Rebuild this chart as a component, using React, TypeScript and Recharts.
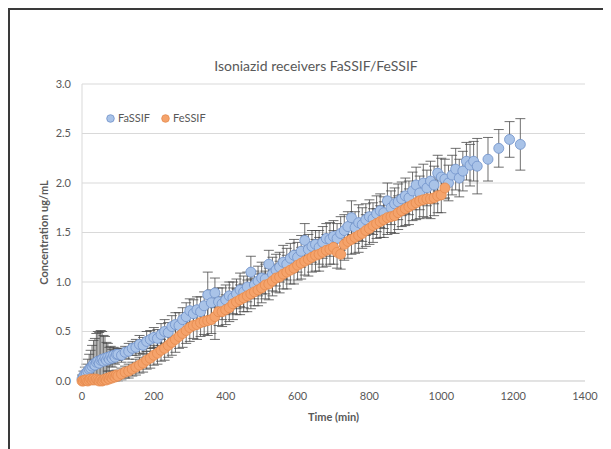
import React from 'react'
import {
  ScatterChart,
  Scatter,
  XAxis,
  YAxis,
  CartesianGrid,
  ErrorBar,
  Label,
} from 'recharts'

// sampling times (min)
const timeMin = [
  0, 4, 8, 12, 16, 20, 24, 28, 32, 36, 40, 44, 48, 52, 56, 60, 64, 68, 72, 76, 80, 84, 88, 92, 96,
  100, 110, 120, 130, 140, 150, 160, 170, 180, 190,
  200, 210, 220, 230, 240, 250, 260, 270, 280, 290,
  300, 310, 320, 330, 340, 350, 360, 370, 380, 390,
  400, 410, 420, 430, 440, 450, 460, 470, 480, 490,
  500, 510, 520, 530, 540, 550, 560, 570, 580, 590,
  600, 610, 620, 630, 640, 650, 660, 670, 680, 690,
  700, 710, 720, 730, 740, 750, 760, 770, 780, 790,
  800, 810, 820, 830, 840, 850, 860, 870, 880, 890,
  900, 910, 920, 930, 940, 950, 960, 970, 980, 990,
  1000, 1010, 1020, 1030, 1040, 1050, 1060, 1070, 1080, 1090, 1100,
  1130, 1160, 1190, 1220,
]

const fassifConc = [
  0.02, 0.05, 0.07, 0.08, 0.1, 0.12, 0.13, 0.15, 0.17, 0.16, 0.19, 0.2, 0.18, 0.21, 0.22, 0.2, 0.23, 0.21, 0.24, 0.22, 0.25, 0.23, 0.26, 0.24, 0.27,
  0.27, 0.26, 0.29, 0.3, 0.33, 0.34, 0.37, 0.36, 0.4, 0.42,
  0.44, 0.43, 0.47, 0.5, 0.49, 0.55, 0.57, 0.56, 0.62, 0.65,
  0.71, 0.68, 0.72, 0.7, 0.76, 0.87, 0.79, 0.89, 0.8, 0.78,
  0.82, 0.86, 0.84, 0.88, 0.92, 0.9, 0.95, 1.1, 0.97, 1.01,
  1.04, 1.03, 1.18, 1.08, 1.12, 1.15, 1.2, 1.18, 1.24, 1.27,
  1.25, 1.31, 1.42, 1.33, 1.36, 1.38, 1.35, 1.4, 1.44, 1.43,
  1.46, 1.44, 1.49, 1.52, 1.56, 1.65, 1.55, 1.6, 1.58, 1.63,
  1.66, 1.64, 1.69, 1.72, 1.7, 1.82, 1.75, 1.79, 1.81, 1.84,
  1.87, 1.85, 1.92, 1.98, 1.9, 2.0, 1.95, 2.02, 1.98, 2.1,
  2.06, 2.04, 2.0, 2.08, 2.14, 2.05, 2.12, 2.22, 2.18, 2.22, 2.17,
  2.24, 2.35, 2.44, 2.39,
]

const fassifSd = [
  0.04, 0.05, 0.07, 0.09, 0.12, 0.15, 0.18, 0.21, 0.24, 0.27, 0.29, 0.3, 0.31, 0.3, 0.28, 0.26, 0.22, 0.18, 0.14, 0.12, 0.1, 0.09, 0.08, 0.07, 0.06,
  0.06, 0.07, 0.06, 0.08, 0.07, 0.08, 0.09, 0.08, 0.1, 0.09,
  0.1, 0.09, 0.11, 0.12, 0.1, 0.11, 0.12, 0.13, 0.12, 0.14,
  0.12, 0.14, 0.13, 0.15, 0.14, 0.23, 0.13, 0.15, 0.14, 0.16,
  0.15, 0.14, 0.16, 0.15, 0.17, 0.16, 0.15, 0.16, 0.14, 0.15,
  0.16, 0.15, 0.14, 0.17, 0.16, 0.15, 0.17, 0.16, 0.15, 0.16,
  0.15, 0.16, 0.17, 0.15, 0.16, 0.14, 0.17, 0.16, 0.15, 0.17,
  0.16, 0.15, 0.17, 0.16, 0.15, 0.17, 0.16, 0.18, 0.17, 0.16,
  0.17, 0.16, 0.18, 0.17, 0.16, 0.18, 0.17, 0.16, 0.18, 0.17,
  0.18, 0.17, 0.19, 0.18, 0.17, 0.19, 0.18, 0.2, 0.19, 0.18,
  0.19, 0.2, 0.18, 0.2, 0.21, 0.19, 0.2, 0.19, 0.21, 0.2, 0.28,
  0.22, 0.19, 0.18, 0.26,
]

const fessifConc = [
  0.0, 0.0, 0.01, 0.01, 0.0, 0.01, 0.02, 0.01, 0.02, 0.01, 0.02, 0.01, 0.0, 0.01, 0.0, 0.01, 0.02, 0.01, 0.03, 0.02, 0.04, 0.03, 0.05, 0.04, 0.06,
  0.05, 0.07, 0.09, 0.1, 0.12, 0.14, 0.16, 0.18, 0.21, 0.23,
  0.26, 0.28, 0.31, 0.33, 0.36, 0.39, 0.42, 0.45, 0.48, 0.51,
  0.54, 0.56, 0.57, 0.59, 0.6, 0.61, 0.62, 0.65, 0.7, 0.7,
  0.72, 0.74, 0.78, 0.8, 0.82, 0.84, 0.86, 0.88, 0.9, 0.92,
  0.94, 0.97, 0.98, 1.01, 1.04, 1.05, 1.08, 1.1, 1.12, 1.14,
  1.17, 1.19, 1.21, 1.23, 1.25, 1.27, 1.28, 1.3, 1.32, 1.33,
  1.35, 1.3, 1.28, 1.38, 1.41, 1.43, 1.45, 1.47, 1.49, 1.52,
  1.54, 1.57, 1.59, 1.61, 1.63, 1.65, 1.66, 1.67, 1.7, 1.72,
  1.74, 1.76, 1.78, 1.8, 1.82, 1.83, 1.84, 1.84, 1.85, 1.87,
  1.88, 1.95,
]

const fessifSd = [
  0.01, 0.01, 0.02, 0.02, 0.02, 0.02, 0.03, 0.02, 0.03, 0.02, 0.03, 0.02, 0.03, 0.02, 0.03, 0.02, 0.03, 0.03, 0.03, 0.04, 0.04, 0.04, 0.05, 0.05, 0.05,
  0.05, 0.06, 0.06, 0.07, 0.07, 0.08, 0.08, 0.09, 0.09, 0.1,
  0.1, 0.11, 0.11, 0.12, 0.12, 0.13, 0.13, 0.12, 0.14, 0.13,
  0.14, 0.13, 0.15, 0.14, 0.13, 0.15, 0.14, 0.23, 0.14, 0.15,
  0.15, 0.14, 0.16, 0.13, 0.15, 0.14, 0.16, 0.15, 0.14, 0.16,
  0.15, 0.14, 0.16, 0.15, 0.14, 0.16, 0.15, 0.17, 0.14, 0.16,
  0.15, 0.16, 0.14, 0.17, 0.15, 0.16, 0.17, 0.15, 0.16, 0.15,
  0.17, 0.16, 0.15, 0.16, 0.17, 0.15, 0.16, 0.17, 0.15, 0.16,
  0.16, 0.17, 0.15, 0.16, 0.18, 0.17, 0.16, 0.18, 0.17, 0.16,
  0.17, 0.18, 0.16, 0.17, 0.18, 0.17, 0.19, 0.2, 0.18, 0.17,
  0.18, 0.1,
]

const xTicks = [0, 200, 400, 600, 800, 1000, 1200, 1400]
const yTicks = [0, 0.5, 1, 1.5, 2, 2.5, 3]

// lower whisker stops at zero so the axis stays at 0.0
const fassifData = fassifConc.map((c, i) => ({ t: timeMin[i], c, err: [Math.min(fassifSd[i], c), fassifSd[i]] }))
const fessifData = fessifConc.map((c, i) => ({ t: timeMin[i], c, err: [Math.min(fessifSd[i], c), fessifSd[i]] }))

const textColor = '#595959'
const gridColor = '#d9d9d9'
const blue = { fill: '#a9c3e8', stroke: '#6f91c9' }
const orange = { fill: '#f5a36b', stroke: '#e58a4e' }

const dot = (c: { fill: string; stroke: string }) => (props: any) =>
  <circle cx={props.cx} cy={props.cy} r={5} fill={c.fill} stroke={c.stroke} strokeWidth={0.8} />

const LegendItem = ({ label, c }: { label: string; c: { fill: string; stroke: string } }) => (
  <span style={{ display: 'inline-flex', alignItems: 'center', marginRight: 11 }}>
    <svg width={9} height={9} style={{ marginRight: 3 }}>
      <circle cx={4.5} cy={4.5} r={3.8} fill={c.fill} stroke={c.stroke} strokeWidth={0.8} />
    </svg>
    {label}
  </span>
)

export default function App() {
  return (
    <div style={{ position: 'relative', width: 603, height: 441, fontFamily: 'Lato, "Open Sans", sans-serif', background: '#fff' }}>
      <div
        style={{
          position: 'absolute',
          left: 0,
          top: 0,
          width: 603,
          height: 441,
          borderLeft: '2px solid #3a3a3a',
          borderTop: '2px solid #3a3a3a',
          boxSizing: 'border-box',
          pointerEvents: 'none',
        }}
      />
      <div
        style={{
          position: 'absolute',
          left: 158,
          top: 49,
          width: 300,
          textAlign: 'center',
          fontSize: 14,
          lineHeight: '18px',
          color: textColor,
        }}
      >
        Isoniazid receivers FaSSIF/FeSSIF
      </div>
      <div
        style={{
          position: 'absolute',
          left: 98,
          top: 103,
          fontSize: 11,
          lineHeight: '14px',
          color: textColor,
          zIndex: 1,
          whiteSpace: 'nowrap',
        }}
      >
        <LegendItem label="FaSSIF" c={blue} />
        <LegendItem label="FeSSIF" c={orange} />
      </div>
      <ScatterChart width={603} height={441} margin={{ top: 76, right: 26, bottom: 27, left: 0 }}>
        <CartesianGrid stroke={gridColor} vertical={false} />
        <XAxis
          type="number"
          dataKey="t"
          domain={[0, 1400]}
          ticks={xTicks}
          height={41}
          tickLine={false}
          axisLine={{ stroke: gridColor }}
          tick={{ fill: textColor, fontSize: 11 }}
          tickMargin={5}
        >
          <Label value="Time (min)" position="insideBottom" offset={1} style={{ fill: textColor, fontSize: 11, fontWeight: 700 }} />
        </XAxis>
        <YAxis
          type="number"
          dataKey="c"
          domain={[0, 3]}
          ticks={yTicks}
          width={74}
          tickLine={false}
          axisLine={{ stroke: gridColor }}
          tick={{ fill: textColor, fontSize: 11 }}
          tickMargin={5}
          tickFormatter={(v: number) => v.toFixed(1)}
        >
          <Label
            value="Concentration ug/mL"
            angle={-90}
            position="insideLeft"
            offset={36}
            style={{ fill: textColor, fontSize: 11, fontWeight: 700, textAnchor: 'middle' }}
          />
        </YAxis>
        <Scatter name="FaSSIF" data={fassifData} fill={blue.fill} shape={dot(blue)} isAnimationActive={false}>
          <ErrorBar dataKey="err" direction="y" width={5} stroke="#4a4a4a" strokeWidth={0.8} />
        </Scatter>
        <Scatter name="FeSSIF" data={fessifData} fill={orange.fill} shape={dot(orange)} isAnimationActive={false}>
          <ErrorBar dataKey="err" direction="y" width={5} stroke="#4a4a4a" strokeWidth={0.8} />
        </Scatter>
      </ScatterChart>
    </div>
  )
}
